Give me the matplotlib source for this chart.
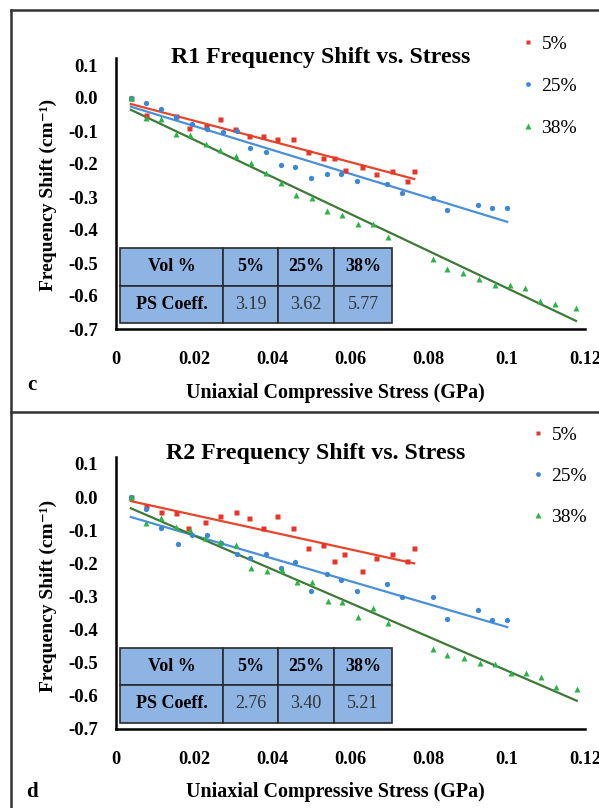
import numpy as np
import matplotlib
matplotlib.use('Agg')
import matplotlib.pyplot as plt
from matplotlib.lines import Line2D

plt.rcParams['font.family'] = ['Liberation Serif', 'DejaVu Serif']

# values: stress (GPa) vs frequency shift (cm-1)
vol_labels = ['5%', '25%', '38%']

r1_x_5 = [0.0038, 0.0077, 0.0154, 0.0187, 0.0229, 0.0266, 0.0305, 0.0340, 0.0375, 0.0413,
          0.0452, 0.0492, 0.0529, 0.0558, 0.0586, 0.0629, 0.0665, 0.0705, 0.0744, 0.0763]
r1_y_5 = [0.000, -0.052, -0.055, -0.091, -0.085, -0.065, -0.094, -0.114, -0.114, -0.124,
          -0.124, -0.163, -0.181, -0.181, -0.219, -0.210, -0.230, -0.220, -0.250, -0.220]

r1_x_25 = [0.0038, 0.0077, 0.0115, 0.0154, 0.0194, 0.0232, 0.0273, 0.0310, 0.0343, 0.0383,
           0.0421, 0.0459, 0.0500, 0.0539, 0.0576, 0.0616, 0.0693, 0.0731, 0.0812, 0.0848,
           0.0925, 0.0963, 0.1001]
r1_y_25 = [0.000, -0.016, -0.034, -0.057, -0.080, -0.095, -0.104, -0.100, -0.152, -0.163,
           -0.203, -0.210, -0.241, -0.231, -0.229, -0.250, -0.261, -0.289, -0.304, -0.339,
           -0.325, -0.332, -0.332]

r1_x_38 = [0.0038, 0.0077, 0.0114, 0.0154, 0.0189, 0.0229, 0.0266, 0.0307, 0.0345, 0.0383,
           0.0422, 0.0461, 0.0502, 0.0541, 0.0579, 0.0618, 0.0657, 0.0697, 0.0810, 0.0846,
           0.0889, 0.0930, 0.0970, 0.1008, 0.1047, 0.1085, 0.1123, 0.1177]
r1_y_38 = [0.001, -0.060, -0.065, -0.108, -0.112, -0.140, -0.158, -0.175, -0.196, -0.228,
           -0.257, -0.294, -0.304, -0.342, -0.355, -0.382, -0.382, -0.420, -0.489, -0.519,
           -0.529, -0.549, -0.567, -0.567, -0.577, -0.614, -0.625, -0.637]

r2_x_5 = [0.0038, 0.0077, 0.0114, 0.0153, 0.0185, 0.0228, 0.0266, 0.0306, 0.0341, 0.0375,
          0.0413, 0.0452, 0.0492, 0.0529, 0.0559, 0.0584, 0.0629, 0.0665, 0.0705, 0.0744, 0.0763]
r2_y_5 = [0.000, -0.026, -0.044, -0.047, -0.093, -0.075, -0.056, -0.046, -0.064, -0.095,
          -0.056, -0.095, -0.155, -0.145, -0.193, -0.173, -0.223, -0.183, -0.173, -0.193, -0.155]

r2_x_25 = [0.0038, 0.0077, 0.0115, 0.0158, 0.0194, 0.0233, 0.0269, 0.0310, 0.0343, 0.0383,
           0.0421, 0.0459, 0.0500, 0.0539, 0.0576, 0.0616, 0.0694, 0.0733, 0.0812, 0.0848,
           0.0925, 0.0963, 0.1001]
r2_y_25 = [0.000, -0.036, -0.095, -0.143, -0.115, -0.115, -0.140, -0.173, -0.183, -0.173,
           -0.214, -0.195, -0.284, -0.234, -0.251, -0.283, -0.263, -0.303, -0.303, -0.370,
           -0.341, -0.372, -0.372]

r2_x_38 = [0.0038, 0.0077, 0.0114, 0.0153, 0.0189, 0.0228, 0.0266, 0.0307, 0.0345, 0.0386,
           0.0424, 0.0462, 0.0502, 0.0543, 0.0579, 0.0618, 0.0657, 0.0697, 0.0810, 0.0848,
           0.0890, 0.0931, 0.0970, 0.1010, 0.1048, 0.1087, 0.1125, 0.1179]
r2_y_38 = [0.000, -0.080, -0.062, -0.090, -0.100, -0.125, -0.135, -0.145, -0.215, -0.224,
           -0.221, -0.256, -0.256, -0.314, -0.316, -0.362, -0.336, -0.382, -0.460, -0.477,
           -0.487, -0.503, -0.505, -0.533, -0.531, -0.543, -0.573, -0.581]

r1_coeff = ['3.19', '3.62', '5.77']
r2_coeff = ['2.76', '3.40', '5.21']

x_ticks = [0, 0.02, 0.04, 0.06, 0.08, 0.1, 0.12]
x_tick_labels = ['0', '0.02', '0.04', '0.06', '0.08', '0.1', '0.12']
y_ticks = [0.1, 0.0, -0.1, -0.2, -0.3, -0.4, -0.5, -0.6, -0.7]
y_tick_labels = ['0.1', '0.0', '-0.1', '-0.2', '-0.3', '-0.4', '-0.5', '-0.6', '-0.7']

W, H = 599, 808
table_fill = '#8DB4E2'


def fx(px):
    return px / W


def fy(py):
    return 1 - py / H


def plot_panel(ax, xs, ys):
    styles = [('s', '#E8352B', '#E5462B', 3.6),
              ('o', '#3B87D6', '#4A8FD8', 3.8),
              ('^', '#2DB24A', '#3D7A35', 4.6)]
    handles = []
    for x, y, (m, mc, lc, ms), lab in zip(xs, ys, styles, vol_labels):
        x = np.array(x)
        y = np.array(y)
        h, = ax.plot(x, y, m, color=mc, ms=ms, mec='none', label=lab, zorder=3)
        # linear trendline like excel
        k, b = np.polyfit(x, y, 1)
        xx = np.array([x.min(), x.max()])
        ax.plot(xx, k * xx + b, '-', color=lc, lw=1.6, zorder=2)
        handles.append(h)

    ax.set_xlim(0, 0.12)
    ax.set_ylim(-0.7, 0.12)
    ax.set_xticks(x_ticks)
    ax.set_xticklabels(x_tick_labels, fontsize=13.2, fontweight='bold')
    ax.set_yticks(y_ticks)
    ax.set_yticklabels(y_tick_labels, fontsize=13.5, fontweight='bold')
    ax.tick_params(axis='both', length=0)
    ax.tick_params(axis='x', pad=16)
    ax.tick_params(axis='y', pad=13)
    for s in ['top', 'right']:
        ax.spines[s].set_visible(False)
    for s in ['left', 'bottom']:
        ax.spines[s].set_linewidth(1.8)
        ax.spines[s].set_color('black')
    ax.patch.set_alpha(0)
    return handles


def add_table(ax, coeffs):
    cells = [['Vol %'] + vol_labels, ['PS Coeff.'] + coeffs]
    tb = ax.table(cellText=cells, cellColours=[[table_fill] * 4] * 2,
                  colWidths=[0.379, 0.202, 0.206, 0.213],
                  bbox=[0.0085, 0.022, 0.58, 0.277], cellLoc='center', zorder=4)
    tb.auto_set_font_size(False)
    tb.set_fontsize(13)
    for (r, c), cell in tb.get_celld().items():
        cell.set_edgecolor('#2b2b2b')
        cell.set_linewidth(1.2)
        if r == 0 or c == 0:
            cell.get_text().set_fontweight('bold')
        else:
            cell.get_text().set_color('#333333')


fig = plt.figure(figsize=(W / 100, H / 100), dpi=100)

# panel frames (left edge and top of each panel)
frame = dict(transform=fig.transFigure, color='#333333', lw=1.8)
fig.add_artist(Line2D([fx(11), fx(11)], [fy(10), fy(808)], **frame))
fig.add_artist(Line2D([fx(11), fx(599)], [fy(10), fy(10)], **frame))
fig.add_artist(Line2D([fx(11), fx(599)], [fy(412), fy(412)], **frame))

panels = [
    dict(xs=[r1_x_5, r1_x_25, r1_x_38], ys=[r1_y_5, r1_y_25, r1_y_38], coeff=r1_coeff,
         title='R1 Frequency Shift vs. Stress', title_xy=(321, 57), letter='c', letter_xy=(32, 385),
         xlabel_y=393, ylabel_y=195, top=58.4, bottom=329, leg=(522, 35), spacing=1.27),
    dict(xs=[r2_x_5, r2_x_25, r2_x_38], ys=[r2_y_5, r2_y_25, r2_y_38], coeff=r2_coeff,
         title='R2 Frequency Shift vs. Stress', title_xy=(316, 453), letter='d', letter_xy=(32, 792),
         xlabel_y=792, ylabel_y=596, top=457.3, bottom=728.7, leg=(532, 426), spacing=1.2),
]

for p in panels:
    ax = fig.add_axes([fx(116), fy(p['bottom']), fx(585) - fx(116), fy(p['top']) - fy(p['bottom'])])
    handles = plot_panel(ax, p['xs'], p['ys'])
    add_table(ax, p['coeff'])
    fig.text(fx(p['title_xy'][0]), fy(p['title_xy'][1]), p['title'], fontsize=17.2, fontweight='bold',
             ha='center', va='center')
    fig.text(fx(p['letter_xy'][0]), fy(p['letter_xy'][1]), p['letter'], fontsize=15, fontweight='bold',
             ha='center', va='center')
    fig.text(fx(335), fy(p['xlabel_y']), 'Uniaxial Compressive Stress (GPa)', fontsize=14.4,
             fontweight='bold', ha='center', va='center')
    fig.text(fx(48), fy(p['ylabel_y']), 'Frequency Shift (cm⁻¹)', fontsize=14, fontweight='bold',
             ha='center', va='center', rotation=90)
    fig.legend(handles, vol_labels, loc='upper left', bbox_to_anchor=(fx(p['leg'][0]), fy(p['leg'][1])),
               frameon=False, handlelength=0.6, handletextpad=0.4, labelspacing=p['spacing'],
               borderpad=0, borderaxespad=0, fontsize=14, markerscale=0.9)

fig.savefig('out.png', dpi=100)
